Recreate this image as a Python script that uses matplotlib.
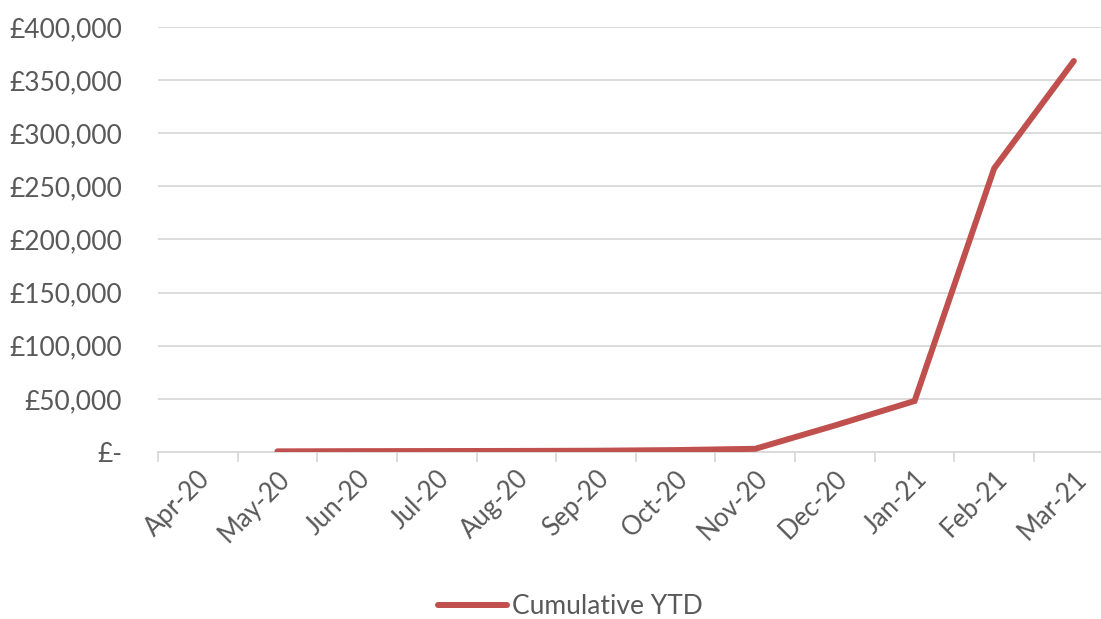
import numpy as np
import matplotlib
matplotlib.use("Agg")
import matplotlib.pyplot as plt
from matplotlib.ticker import FuncFormatter, MultipleLocator

plt.rcParams['font.family'] = ['Lato', 'DejaVu Sans']

months = ['Apr-20', 'May-20', 'Jun-20', 'Jul-20', 'Aug-20', 'Sep-20',
          'Oct-20', 'Nov-20', 'Dec-20', 'Jan-21', 'Feb-21', 'Mar-21']
cumulative_ytd = [np.nan, 600, 800, 900, 1000, 1200, 1800, 3000,
                  25000, 48000, 267000, 368000]

text_col = '#595959'
grid_col = '#D9D9D9'
line_col = '#C0504D'

fig = plt.figure(figsize=(11.01, 6.19), dpi=100)
# plot area runs slightly past the right edge, as in the original
ax = fig.add_axes([0.1435, 0.2698, 0.868, 0.6866])

x = np.arange(len(months))
ax.plot(x, cumulative_ytd, color=line_col, lw=4.3, solid_capstyle='round',
        solid_joinstyle='miter', label='Cumulative YTD', zorder=3)

ax.set_xlim(-0.5, len(months) - 0.5)
ax.set_ylim(0, 400000)
ax.yaxis.set_major_locator(MultipleLocator(50000))
ax.yaxis.set_major_formatter(FuncFormatter(lambda v, p: '£-' if v == 0 else f'£{v:,.0f}'))
ax.grid(axis='y', color=grid_col, lw=1.3)
ax.set_axisbelow(True)

for s in ['top', 'right', 'left']:
    ax.spines[s].set_visible(False)
ax.spines['bottom'].set_color(grid_col)
ax.spines['bottom'].set_linewidth(1.3)

ax.set_xticks(x)
ax.set_xticklabels(months, rotation=45, ha='right', va='top', rotation_mode='anchor')
ax.set_xticks(np.arange(-0.5, len(months)), minor=True)
ax.tick_params(axis='x', which='major', length=0, pad=10, labelsize=18.5, labelcolor=text_col)
ax.tick_params(axis='x', which='minor', length=7, width=1.3, color=grid_col)
ax.tick_params(axis='y', length=0, pad=26, labelsize=19, labelcolor=text_col)

leg = fig.legend(loc='center', bbox_to_anchor=(0.518, 0.02), frameon=False,
                 fontsize=19, handlelength=2.6, handletextpad=0.2)
for t in leg.get_texts():
    t.set_color(text_col)

fig.savefig('out.png', dpi=100)
